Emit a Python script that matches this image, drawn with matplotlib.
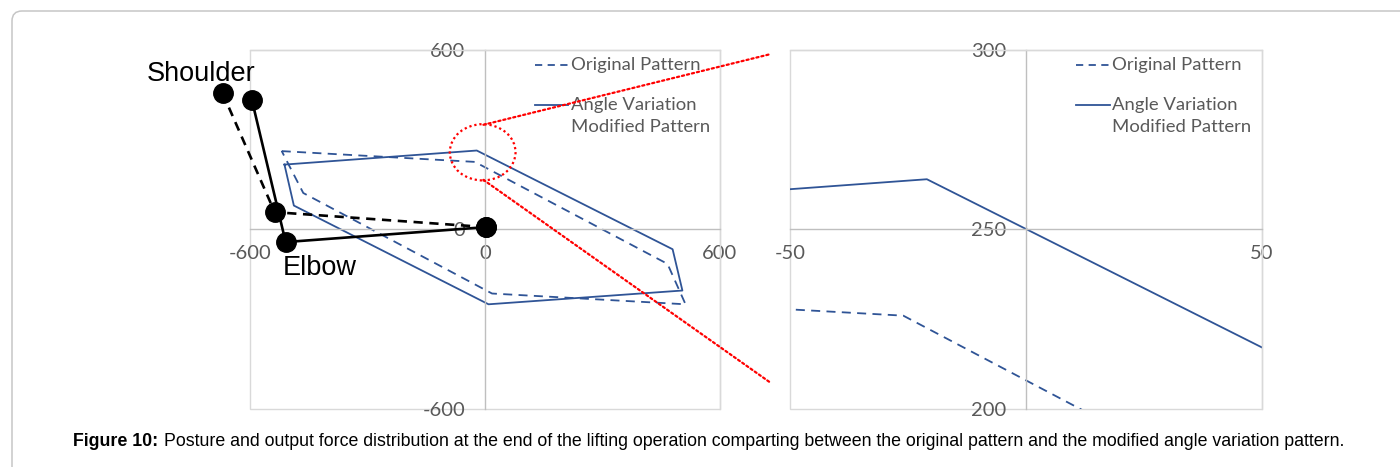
import matplotlib.pyplot as plt
from matplotlib.patches import Ellipse, Rectangle, FancyBboxPatch, ConnectionPatch

plt.rcParams["axes.unicode_minus"] = False

# output force distribution (closed polygons)
orig_x = [-519, -26, 466, 512, 18, -464, -519]
orig_y = [262, 226, -115, -250, -214, 122, 262]
mod_x = [-512, -21, 479, 504, 9, -488, -512]
mod_y = [217, 264, -66, -204, -250, 80, 217]

# arm posture: shoulder, elbow, hand
arm_orig_x = [-670, -537, 3]
arm_orig_y = [456, 58, 8]
arm_mod_x = [-595, -509, 3]
arm_mod_y = [432, -42, 8]

left_xticks = [-600, 0, 600]
left_yticks = [-600, 0, 600]
right_xticks = [-50, 50]
right_yticks = [200, 250, 300]

legend_labels = ["Original Pattern", "Angle Variation\nModified Pattern"]
caption_bold = "Figure 10:"
caption_text = ("Posture and output force distribution at the end of the lifting operation "
                "comparting between the original pattern and the modified angle variation pattern.")

BLUE = "#2F5496"
GRAY_TXT = "#595959"

fig = plt.figure(figsize=(14, 4.67), dpi=100)

# page frame
fig.add_artist(FancyBboxPatch((0.12, -0.5), 14.5, 4.56 + 0.5,
                              boxstyle="round,pad=0,rounding_size=0.1",
                              transform=fig.dpi_scale_trans, fill=False,
                              ec="#c6c6c6", lw=1.1))

ax1 = fig.add_axes([250 / 1400, 1 - 409 / 467, 470 / 1400, 359 / 467])
ax2 = fig.add_axes([790 / 1400, 1 - 409 / 467, 472 / 1400, 359 / 467])


def style_axes(ax, xlim, ylim, xticks, yticks, xcross, ycross):
    ax.set_xlim(xlim)
    ax.set_ylim(ylim)
    ax.set_xticks(xticks)
    ax.set_yticks(yticks)
    ax.spines["left"].set_position(("data", xcross))
    ax.spines["bottom"].set_position(("data", ycross))
    for s in ["left", "bottom"]:
        ax.spines[s].set_color("#bfbfbf")
        ax.spines[s].set_linewidth(1.0)
    for s in ["top", "right"]:
        ax.spines[s].set_color("#d9d9d9")
        ax.spines[s].set_linewidth(1.0)
    ax.add_patch(Rectangle((0, 0), 1, 1, transform=ax.transAxes, fill=False,
                           ec="#d9d9d9", lw=1.0, zorder=0, clip_on=False))
    ax.tick_params(length=0, labelsize=14.5, labelcolor=GRAY_TXT)
    ax.tick_params(axis="x", pad=11)
    ax.tick_params(axis="y", pad=14)
    for lab in ax.get_xticklabels() + ax.get_yticklabels():
        lab.set_family("Lato")


def add_legend(ax):
    ax.plot([0.606, 0.677], [0.958, 0.958], transform=ax.transAxes, color=BLUE,
            lw=1.3, ls=(0, (4, 3)), clip_on=False)
    ax.text(0.683, 0.958, legend_labels[0], transform=ax.transAxes, va="center",
            ha="left", color=GRAY_TXT, fontsize=13.3, family="Lato")
    ax.plot([0.606, 0.677], [0.847, 0.847], transform=ax.transAxes, color=BLUE,
            lw=1.3, clip_on=False)
    for i, line in enumerate(legend_labels[1].split("\n")):
        ax.text(0.683, 0.847 - 0.062 * i, line, transform=ax.transAxes, va="center",
                ha="left", color=GRAY_TXT, fontsize=13.3, family="Lato")


for ax in (ax1, ax2):
    ax.plot(orig_x, orig_y, color=BLUE, lw=1.3, ls=(0, (5, 3.5)))
    ax.plot(mod_x, mod_y, color=BLUE, lw=1.3)
    add_legend(ax)

style_axes(ax1, (-600, 600), (-600, 600), left_xticks, left_yticks, 0, 0)
style_axes(ax2, (-50, 50), (200, 300), right_xticks, right_yticks, 0, 250)

# arm posture
ax1.plot(arm_orig_x, arm_orig_y, color="black", lw=1.9, ls=(0, (3.5, 2.5)),
         marker="o", ms=14, clip_on=False, zorder=4)
ax1.plot(arm_mod_x, arm_mod_y, color="black", lw=1.9, marker="o", ms=14,
         clip_on=False, zorder=4)
ax1.text(-724, 520, "Shoulder", ha="center", va="center", fontsize=19.5,
         family="Liberation Sans", clip_on=False)
ax1.text(-423, -128, "Elbow", ha="center", va="center", fontsize=19.5,
         family="Liberation Sans", clip_on=False)

# zoom indicator
ax1.add_patch(Ellipse((-6, 258), 168, 188, fill=False, ec="red", lw=1.6,
                      ls=(0, (1, 1.3)), zorder=5))
for ya, yb in [(350, 0.989), (166, 0.072)]:
    con = ConnectionPatch(xyA=(-4, ya), coordsA=ax1.transData,
                          xyB=(-0.04, yb), coordsB=ax2.transAxes,
                          color="red", lw=1.6, ls=(0, (1, 1.3)), zorder=6)
    fig.add_artist(con)

# caption
t1 = fig.text(73 / 1400, 1 - 450 / 467, caption_bold, fontsize=12.75, weight="bold",
              family="Liberation Sans", va="bottom", ha="left")
ax1.annotate(caption_text, xy=(1, 0), xycoords=t1, xytext=(4, 0),
             textcoords="offset points", va="bottom", ha="left",
             fontsize=12.75, family="Liberation Sans", annotation_clip=False)

fig.savefig("out.png", dpi=100)
